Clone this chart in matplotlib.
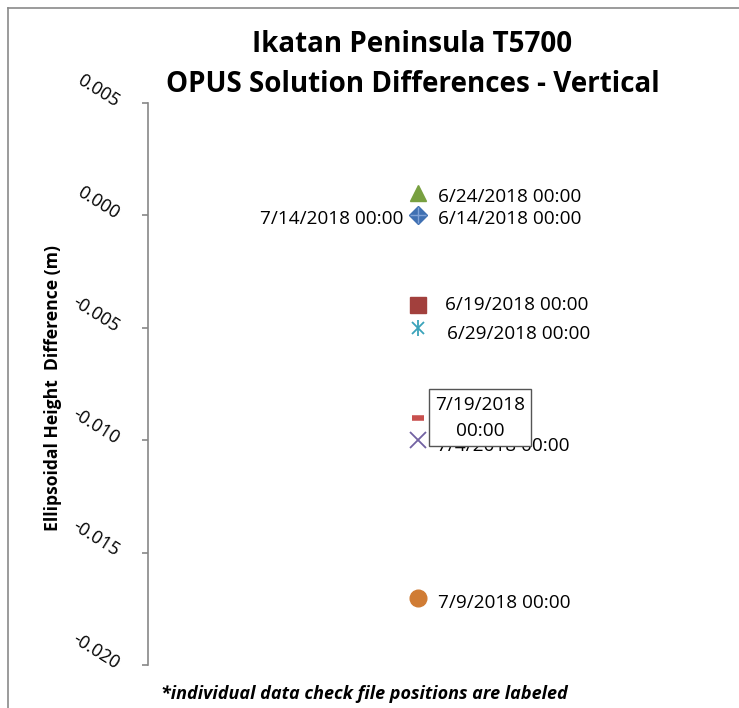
import matplotlib
matplotlib.use("Agg")
import matplotlib.pyplot as plt
from matplotlib.lines import Line2D

plt.rcParams['font.family'] = ['Open Sans', 'DejaVu Sans']

# ---- data ----
dates = ["6/14/2018 00:00", "6/19/2018 00:00", "6/24/2018 00:00", "6/29/2018 00:00",
         "7/4/2018 00:00", "7/9/2018 00:00", "7/14/2018 00:00", "7/19/2018\n00:00"]
x_vals = [1, 1, 1, 1, 1, 1, 1, 1]
diff_m = [0.000, -0.004, 0.001, -0.005, -0.010, -0.017, 0.000, -0.009]
markers = ['D', 's', '^', '*x', 'x', 'o', '+', '_']
colors = ['#3F70B2', '#A2403D', '#78A040', '#3AA3BA', '#7262A2', '#D07C34', '#7FA2D6', '#C8504E']
yticks = [0.005, 0.000, -0.005, -0.010, -0.015, -0.020]
ytick_labels = ["0.005", "0.000", "-0.005", "-0.010", "-0.015", "-0.020"]

W, H = 739, 708
fig = plt.figure(figsize=(W / 100, H / 100), dpi=100)
ax = fig.add_axes([148 / W, 1 - 665 / H, (688 - 148) / W, (665 - 103) / H])

ax.set_xlim(0, 2)
ax.set_ylim(-0.020, 0.005)

# draw order: put the 7/14 plus on top of the diamond
order = [0, 1, 2, 3, 4, 5, 7, 6]
for i in order:
    m = markers[i]
    x, y, c = x_vals[i], diff_m[i], colors[i]
    if m == '*x':
        ax.plot([x], [y], marker='x', ms=9, mew=1.3, color=c, ls='none', zorder=3)
        ax.plot([x], [y], marker='|', ms=11, mew=1.3, color=c, ls='none', zorder=3)
    elif m == 'x':
        ax.plot([x], [y], marker='x', ms=12, mew=1.3, color=c, ls='none', zorder=3)
    elif m == '_':
        ax.plot([x], [y], marker='_', ms=8, mew=4, color=c, ls='none', zorder=3)
    elif m == '+':
        ax.plot([x], [y], marker='+', ms=11, mew=1.0, color=c, ls='none', zorder=4)
    elif m == 'D':
        ax.plot([x], [y], marker='D', ms=9, color=c, mec=c, ls='none', zorder=3)
    elif m == 's':
        ax.plot([x], [y], marker='s', ms=11, color=c, mec=c, ls='none', zorder=3)
    elif m == '^':
        ax.plot([x], [y], marker='^', ms=12, color=c, mec=c, ls='none', zorder=3)
    elif m == 'o':
        ax.plot([x], [y], marker='o', ms=12, color=c, mec=c, ls='none', zorder=3)

# data labels
lab_fs = 13.7
offsets = {0: (20, -4), 1: (27, 0), 2: (20, -4), 3: (29, -6), 4: (19, -6), 5: (20, -5)}
for i, (dx, dy) in offsets.items():
    ax.annotate(dates[i], (x_vals[i], diff_m[i]), xytext=(dx, dy), textcoords='offset pixels',
                ha='left', va='center', fontsize=lab_fs, color='black', zorder=5)
ax.annotate(dates[6], (x_vals[6], diff_m[6]), xytext=(-15, -4), textcoords='offset pixels',
            ha='right', va='center', fontsize=lab_fs, color='black', zorder=5)
ax.annotate(dates[7], (x_vals[7], diff_m[7]), xytext=(62, 0), textcoords='offset pixels',
            ha='center', va='center', fontsize=lab_fs, color='black', zorder=6, linespacing=1.6,
            bbox=dict(boxstyle='square,pad=0.33', fc='white', ec='#555555', lw=1.0))

# axes styling
for s in ['top', 'right', 'bottom']:
    ax.spines[s].set_visible(False)
ax.spines['left'].set_color('#878787')
ax.spines['left'].set_linewidth(1.2)
ax.set_xticks([])
ax.set_yticks(yticks)
ax.set_yticklabels(ytick_labels)
ax.tick_params(axis='y', direction='out', length=4, width=1.2, color='#878787', pad=18,
               labelsize=13)
for t in ax.get_yticklabels():
    t.set_rotation(-32)
    t.set_rotation_mode('anchor')
    t.set_ha('right')
    t.set_va('center')

# title
fig.text(412 / W, 1 - 45 / H, "Ikatan Peninsula T5700", ha='center', va='center',
         fontsize=20, fontweight='bold')
fig.text(413 / W, 1 - 85 / H, "OPUS Solution Differences - Vertical", ha='center', va='center',
         fontsize=20, fontweight='bold')

# y label
fig.text(53 / W, 1 - 388 / H, "Ellipsoidal Height  Difference (m)", rotation=90,
         ha='center', va='center', fontsize=12.6, fontweight='bold')

# footnote
fig.text(364 / W, 1 - 694 / H, "*individual data check file positions are labeled",
         ha='center', va='center', fontsize=13, fontweight='bold', fontstyle='italic')

# outer chart frame (partially visible)
fig.add_artist(Line2D([8 / W, 1.0], [1 - 8 / H, 1 - 8 / H], transform=fig.transFigure,
                      color='#8a8a8a', lw=1.2))
fig.add_artist(Line2D([8 / W, 8 / W], [1 - 8 / H, 0.0], transform=fig.transFigure,
                      color='#8a8a8a', lw=1.2))

fig.savefig("out.png", dpi=100)
